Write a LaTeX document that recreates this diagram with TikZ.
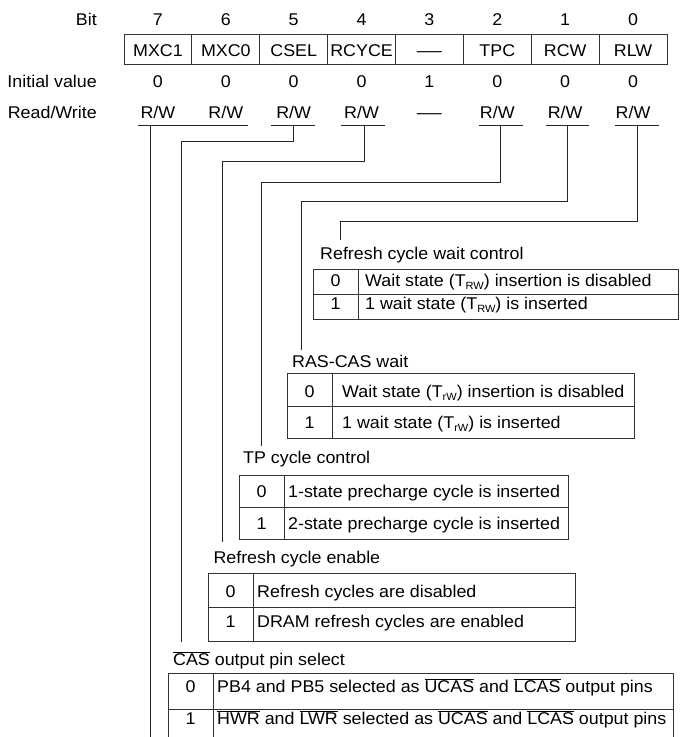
\documentclass[tikz,border=0pt]{standalone}
\usepackage{fontspec}
\usepackage{graphicx}
\setmainfont[FakeStretch=1.05]{Liberation Sans}
\newcommand\RWtxt{R/W}
\newcommand\longdash{\scalebox{1.4}[1]{\textemdash}}
\newcommand\ovl[1]{$\overline{\mbox{#1}}$}
\newcommand\subs[1]{\raisebox{-3pt}{\fontsize{10.5}{12}\selectfont #1}}
% table: #1 name, #2 left, #3 divider, #4 right, #5 top, #6 mid, #7 bottom,
% #8 text x, #9 baseline row0, then three more arguments via \desctabrows
\newcommand\desctab[9]{%
  \draw[tabline] (#2,#5) rectangle (#4,#7);
  \draw[tabline] (#2,#6) -- (#4,#6);
  \draw[tabline] (#3,#5) -- (#3,#7);
  \def\tabL{#2}\def\tabD{#3}\def\tabX{#8}\def\tabB{#9}\def\tabN{#1}%
  \desctabrows}
\newcommand\desctabrows[3]{%
  \node[anchor=base] (\tabN-k0) at ({(\tabL+\tabD)/2},\tabB) {0};
  \node[anchor=base west] (\tabN-t0) at (\tabX,\tabB) {#2};
  \node[anchor=base] (\tabN-k1) at ({(\tabL+\tabD)/2},#1) {1};
  \node[anchor=base west] (\tabN-t1) at (\tabX,#1) {#3};
}
\begin{document}
\begin{tikzpicture}[x=1pt,y=-1pt,
  every node/.style={font=\fontsize{17}{20}\selectfont, inner sep=0pt, text=black},
  conn/.style={line width=0.9pt, draw=black!85},
  tabline/.style={line width=0.9pt, draw=black!80},
  regcell/.style={draw=black!80, line width=0.9pt, minimum width=67.875pt, minimum height=30pt, anchor=center}]
\useasboundingbox (0,0) rectangle (681,737);
\clip (0,0) rectangle (681,737);

% row titles
\node[anchor=base east] (bitlbl) at (97,25.7) {Bit};
\node[anchor=base east] (ivlbl) at (97,87.5) {Initial value};
\node[anchor=base east] (rwlbl) at (97,118) {Read/Write};

% register
\foreach \b/\nm/\iv/\rw [count=\i from 0] in
  {7/MXC1/0/\RWtxt, 6/MXC0/0/\RWtxt, 5/CSEL/0/\RWtxt, 4/RCYCE/0/\RWtxt,
   3/\longdash/1/\longdash, 2/TPC/0/\RWtxt, 1/RCW/0/\RWtxt, 0/RLW/0/\RWtxt}{
  \pgfmathsetmacro\cx{124+67.875*(\i+0.5)}
  \node[anchor=base] (bit\b) at (\cx,25.7) {\b};
  \node[regcell] (reg\b) at (\cx,49) {};
  \node[anchor=base] (name\b) at (\cx,56.5) {\nm};
  \node[anchor=base] (iv\b) at (\cx,87.5) {\iv};
  \node[anchor=base] (rw\b) at (\cx,118) {\rw};
}

% underlines
\draw[conn] (138,125.5) -- (248,125.5);
\draw[conn] (271,125.5) -- (315,125.5);
\draw[conn] (341,125.5) -- (385,125.5);
\draw[conn] (479,125.5) -- (523,125.5);
\draw[conn] (546,125.5) -- (589,125.5);
\draw[conn] (615,125.5) -- (659,125.5);

\coordinate (d7) at (150,125.5);
\coordinate (d5) at (293,125.5);
\coordinate (d4) at (364,125.5);
\coordinate (d2) at (500,125.5);
\coordinate (d1) at (567,125.5);
\coordinate (d0) at (637,125.5);

\coordinate (e7) at (150,745);
\coordinate (e5) at (181,642);
\coordinate (e4) at (222,542);
\coordinate (e2) at (261,446);
\coordinate (e1) at (301,350);
\coordinate (e0) at (340,240);

% labels
\node[anchor=base west] (lab0) at (320,259) {Refresh cycle wait control};
\node[anchor=base west] (lab1) at (292,367.5) {RAS-CAS wait};
\node[anchor=base west] (lab2) at (243,463.4) {TP cycle control};
\node[anchor=base west] (lab4) at (213.3,563) {Refresh cycle enable};
\node[anchor=base west] (lab5) at (173,665) {\ovl{CAS} output pin select};

% connectors
\draw[conn] (d7) -- (e7);
\draw[conn] (d5) |- (181,141) -- (e5);
\draw[conn] (d4) |- (222,161) -- (e4);
\draw[conn] (d2) |- (261,182) -- (e2);
\draw[conn] (d1) |- (301,201) -- (e1);
\draw[conn] (d0) |- (340,221) -- (e0);

% tables
\desctab{tA}{313}{358}{678}{269.5}{294}{319}{365}{286}
  {309}{Wait state (T\subs{RW}) insertion is disabled}{1 wait state (T\subs{RW}) is inserted}
\desctab{tB}{287}{332}{634}{373}{406}{438}{342}{397}
  {428}{Wait state (T\subs{rW}) insertion is disabled}{1 wait state (T\subs{rW}) is inserted}
\desctab{tC}{239}{284}{568}{475}{507}{539}{288}{497}
  {529}{1-state precharge cycle is inserted}{2-state precharge cycle is inserted}
\desctab{tD}{208}{253}{575}{573}{607}{641}{257}{597}
  {627}{Refresh cycles are disabled}{DRAM refresh cycles are enabled}
\desctab{tE}{168}{213}{673}{673}{709}{745}{217}{692}
  {724}{PB4 and PB5 selected as \ovl{UCAS} and \ovl{LCAS} output pins}{\ovl{HWR} and \ovl{LWR} selected as \ovl{UCAS} and \ovl{LCAS} output pins}
\end{tikzpicture}
\end{document}
